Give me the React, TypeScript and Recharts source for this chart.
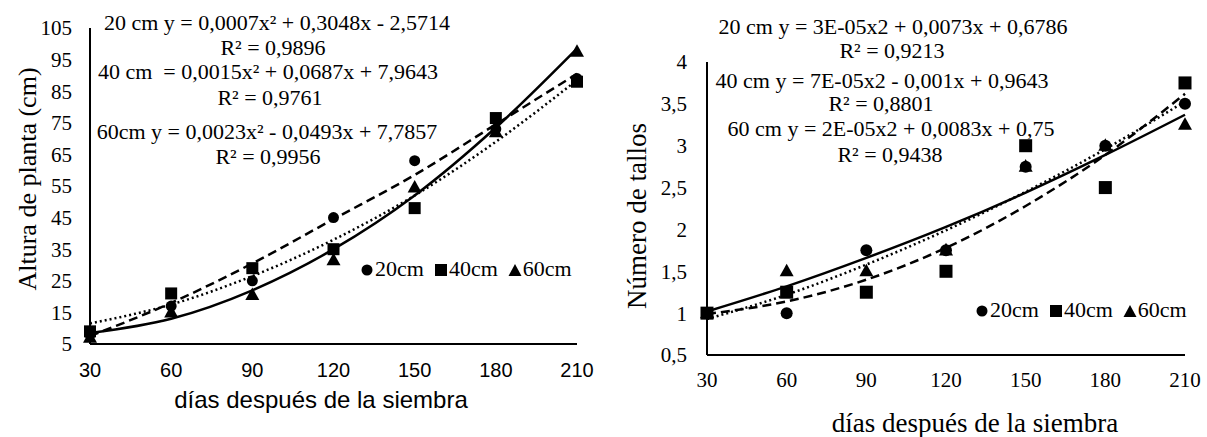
import React from "react";
import { ComposedChart, Line, Scatter, XAxis, YAxis, Legend } from "recharts";

// días después de la siembra
const days = [30, 60, 90, 120, 150, 180, 210];

// Altura de planta (cm) - observed points
const altura20 = [8, 17, 25, 45, 63, 73, 89];
const altura40 = [9, 21, 29, 35, 48, 76.5, 88];
const altura60 = [7, 15, 20.5, 31.5, 54.5, 72, 97.5];
// trend lines
const alturaTrend20 = [7.5, 18, 30.5, 44.5, 58.5, 74.5, 90.5];
const alturaTrend40 = [11.5, 17.5, 26.5, 38, 52, 69, 88.5];
const alturaTrend60 = [8.5, 13, 22, 35, 52, 73.5, 98.5];
const alturaTicks = [5, 15, 25, 35, 45, 55, 65, 75, 85, 95, 105];

// Número de tallos - observed points
const tallos20 = [1, 1, 1.75, 1.75, 2.75, 3, 3.5];
const tallos40 = [1, 1.25, 1.25, 1.5, 3, 2.5, 3.75];
const tallos60 = [1, 1.5, 1.5, 1.75, 2.75, 3, 3.25];
const tallosTrend20 = [0.93, 1.22, 1.58, 1.99, 2.45, 2.96, 3.53];
const tallosTrend40 = [0.99, 1.14, 1.4, 1.78, 2.28, 2.89, 3.62];
const tallosTrend60 = [1.02, 1.32, 1.66, 2.03, 2.44, 2.89, 3.37];
const tallosTicks = [0.5, 1, 1.5, 2, 2.5, 3, 3.5, 4];

const alturaEq = [
  "20 cm y = 0,0007x² + 0,3048x - 2,5714",
  "R² = 0,9896",
  "40 cm  = 0,0015x² + 0,0687x + 7,9643",
  "R² = 0,9761",
  "60cm y = 0,0023x² - 0,0493x + 7,7857",
  "R² = 0,9956",
];
const tallosEq = [
  "20 cm y = 3E-05x2 + 0,0073x + 0,6786",
  "R² = 0,9213",
  "40 cm y = 7E-05x2 - 0,001x + 0,9643",
  "R² = 0,8801",
  "60 cm y = 2E-05x2 + 0,0083x + 0,75",
  "R² = 0,9438",
];
const seriesNames = ["20cm", "40cm", "60cm"];

const alturaData = days.map((d, i) => ({
  day: d,
  p20: altura20[i],
  p40: altura40[i],
  p60: altura60[i],
  t20: alturaTrend20[i],
  t40: alturaTrend40[i],
  t60: alturaTrend60[i],
}));

const tallosData = days.map((d, i) => ({
  day: d,
  p20: tallos20[i],
  p40: tallos40[i],
  p60: tallos60[i],
  t20: tallosTrend20[i],
  t40: tallosTrend40[i],
  t60: tallosTrend60[i],
}));

const SERIF = "'Liberation Serif', 'Times New Roman', serif";
const SANS = "'Liberation Sans', Arial, sans-serif";

const circleShape = (r: number) => (props: any) =>
  <circle cx={props.cx} cy={props.cy} r={r} fill="#000" />;
const squareShape = (s: number) => (props: any) =>
  <rect x={props.cx - s / 2} y={props.cy - s / 2} width={s} height={s} fill="#000" />;
const triangleShape = (s: number) => (props: any) => {
  const h = s * 0.9;
  const { cx, cy } = props;
  return (
    <polygon
      points={`${cx},${cy - h * 0.6} ${cx - s / 2},${cy + h * 0.4} ${cx + s / 2},${cy + h * 0.4}`}
      fill="#000"
    />
  );
};

const LegendIcon = ({ kind }: { kind: number }) => (
  <svg width={14} height={14} style={{ marginRight: 1 }}>
    {kind === 0 && <circle cx={7} cy={8} r={5.5} fill="#000" />}
    {kind === 1 && <rect x={1} y={2} width={12} height={12} fill="#000" />}
    {kind === 2 && <polygon points="7,2 0.5,14 13.5,14" fill="#000" />}
  </svg>
);

const legendContent = () => (
  <div style={{ display: "flex", alignItems: "center", fontFamily: SERIF, fontSize: 22, color: "#000", whiteSpace: "nowrap" }}>
    {seriesNames.map((n, i) => (
      <span key={n} style={{ display: "flex", alignItems: "center", marginRight: i < 2 ? 10 : 0 }}>
        <LegendIcon kind={i} />
        {n}
      </span>
    ))}
  </div>
);

const EqLine = ({ text, cx, cy }: { text: string; cx: number; cy: number }) => (
  <div
    style={{
      position: "absolute",
      left: cx - 300,
      top: cy - 13,
      width: 600,
      textAlign: "center",
      lineHeight: "26px",
      fontFamily: SERIF,
      fontSize: 22,
      whiteSpace: "pre",
      color: "#000",
    }}
  >
    {text}
  </div>
);

const axisLine = { stroke: "#000", strokeWidth: 2 };

const App = () => {
  const alturaEqPos = [[277, 23], [273, 48], [268, 72], [270, 98], [267, 132], [268, 157]];
  const tallosEqPos = [[893, 27], [892, 51], [882, 81], [881, 104], [891, 129], [890, 155]];

  return (
    <div style={{ position: "absolute", left: 0, top: 0, width: 1207, height: 437, background: "#fff", overflow: "hidden" }}>
      {/* Altura de planta */}
      <div style={{ position: "absolute", left: 0, top: 0 }}>
        <ComposedChart width={600} height={437} data={alturaData} margin={{ top: 28, right: 23, bottom: 33, left: 40 }}>
          <XAxis
            dataKey="day"
            type="number"
            domain={[30, 210]}
            ticks={days}
            height={60}
            axisLine={axisLine}
            tickLine={false}
            tickMargin={13}
            tick={{ fill: "#000", fontSize: 20, fontFamily: SANS }}
          />
          <YAxis
            type="number"
            domain={[5, 105]}
            ticks={alturaTicks}
            width={50}
            axisLine={axisLine}
            tickLine={false}
            tickMargin={12}
            tick={{ fill: "#000", fontSize: 21, fontFamily: SERIF }}
          />
          <Line dataKey="t20" type="monotone" stroke="#000" strokeWidth={2.5} strokeDasharray="9 5" dot={false} isAnimationActive={false} />
          <Line dataKey="t40" type="monotone" stroke="#000" strokeWidth={2.5} strokeDasharray="2 3" dot={false} isAnimationActive={false} />
          <Line dataKey="t60" type="monotone" stroke="#000" strokeWidth={2.5} dot={false} isAnimationActive={false} />
          <Scatter dataKey="p60" shape={triangleShape(14)} isAnimationActive={false} />
          <Scatter dataKey="p40" shape={squareShape(12)} isAnimationActive={false} />
          <Scatter dataKey="p20" shape={circleShape(5.5)} isAnimationActive={false} />
          <Legend
            layout="horizontal"
            verticalAlign="middle"
            align="center"
            content={legendContent}
            wrapperStyle={{ left: 360, top: 256, width: "auto" }}
          />
        </ComposedChart>
      </div>

      {/* Número de tallos */}
      <div style={{ position: "absolute", left: 600, top: 0 }}>
        <ComposedChart width={607} height={437} data={tallosData} margin={{ top: 62, right: 22, bottom: 32, left: 57 }}>
          <XAxis
            dataKey="day"
            type="number"
            domain={[30, 210]}
            ticks={days}
            height={50}
            axisLine={axisLine}
            tickLine={false}
            tickMargin={11}
            tick={{ fill: "#000", fontSize: 21, fontFamily: SERIF }}
          />
          <YAxis
            type="number"
            domain={[0.5, 4]}
            ticks={tallosTicks}
            width={50}
            axisLine={axisLine}
            tickLine={false}
            tickMargin={14}
            tickFormatter={(v: number) => String(v).replace(".", ",")}
            tick={{ fill: "#000", fontSize: 21, fontFamily: SERIF }}
          />
          <Line dataKey="t40" type="monotone" stroke="#000" strokeWidth={2.5} strokeDasharray="9 5" dot={false} isAnimationActive={false} />
          <Line dataKey="t20" type="monotone" stroke="#000" strokeWidth={2.5} strokeDasharray="2 3" dot={false} isAnimationActive={false} />
          <Line dataKey="t60" type="monotone" stroke="#000" strokeWidth={2.5} dot={false} isAnimationActive={false} />
          <Scatter dataKey="p60" shape={triangleShape(14)} isAnimationActive={false} />
          <Scatter dataKey="p40" shape={squareShape(13)} isAnimationActive={false} />
          <Scatter dataKey="p20" shape={circleShape(6)} isAnimationActive={false} />
          <Legend
            layout="horizontal"
            verticalAlign="middle"
            align="center"
            content={legendContent}
            wrapperStyle={{ left: 375, top: 297, width: "auto" }}
          />
        </ComposedChart>
      </div>

      {/* equations */}
      {alturaEq.map((t, i) => (
        <EqLine key={"a" + i} text={t} cx={alturaEqPos[i][0]} cy={alturaEqPos[i][1]} />
      ))}
      {tallosEq.map((t, i) => (
        <EqLine key={"t" + i} text={t} cx={tallosEqPos[i][0]} cy={tallosEqPos[i][1]} />
      ))}

      {/* axis titles */}
      <svg width={1207} height={437} style={{ position: "absolute", left: 0, top: 0, pointerEvents: "none" }}>
        <text x={27} y={179} transform="rotate(-90 27 179)" textAnchor="middle" dominantBaseline="central" fontFamily={SERIF} fontSize={26} fill="#000">
          Altura de planta (cm)
        </text>
        <text x={321} y={399} textAnchor="middle" dominantBaseline="central" fontFamily={SANS} fontSize={24} fill="#000">
          días después de la siembra
        </text>
        <text x={637} y={216} transform="rotate(-90 637 216)" textAnchor="middle" dominantBaseline="central" fontFamily={SERIF} fontSize={27} fill="#000">
          Número de tallos
        </text>
        <text x={975} y={423} textAnchor="middle" dominantBaseline="central" fontFamily={SERIF} fontSize={27} fill="#000">
          días después de la siembra
        </text>
      </svg>
    </div>
  );
};

export default App;
